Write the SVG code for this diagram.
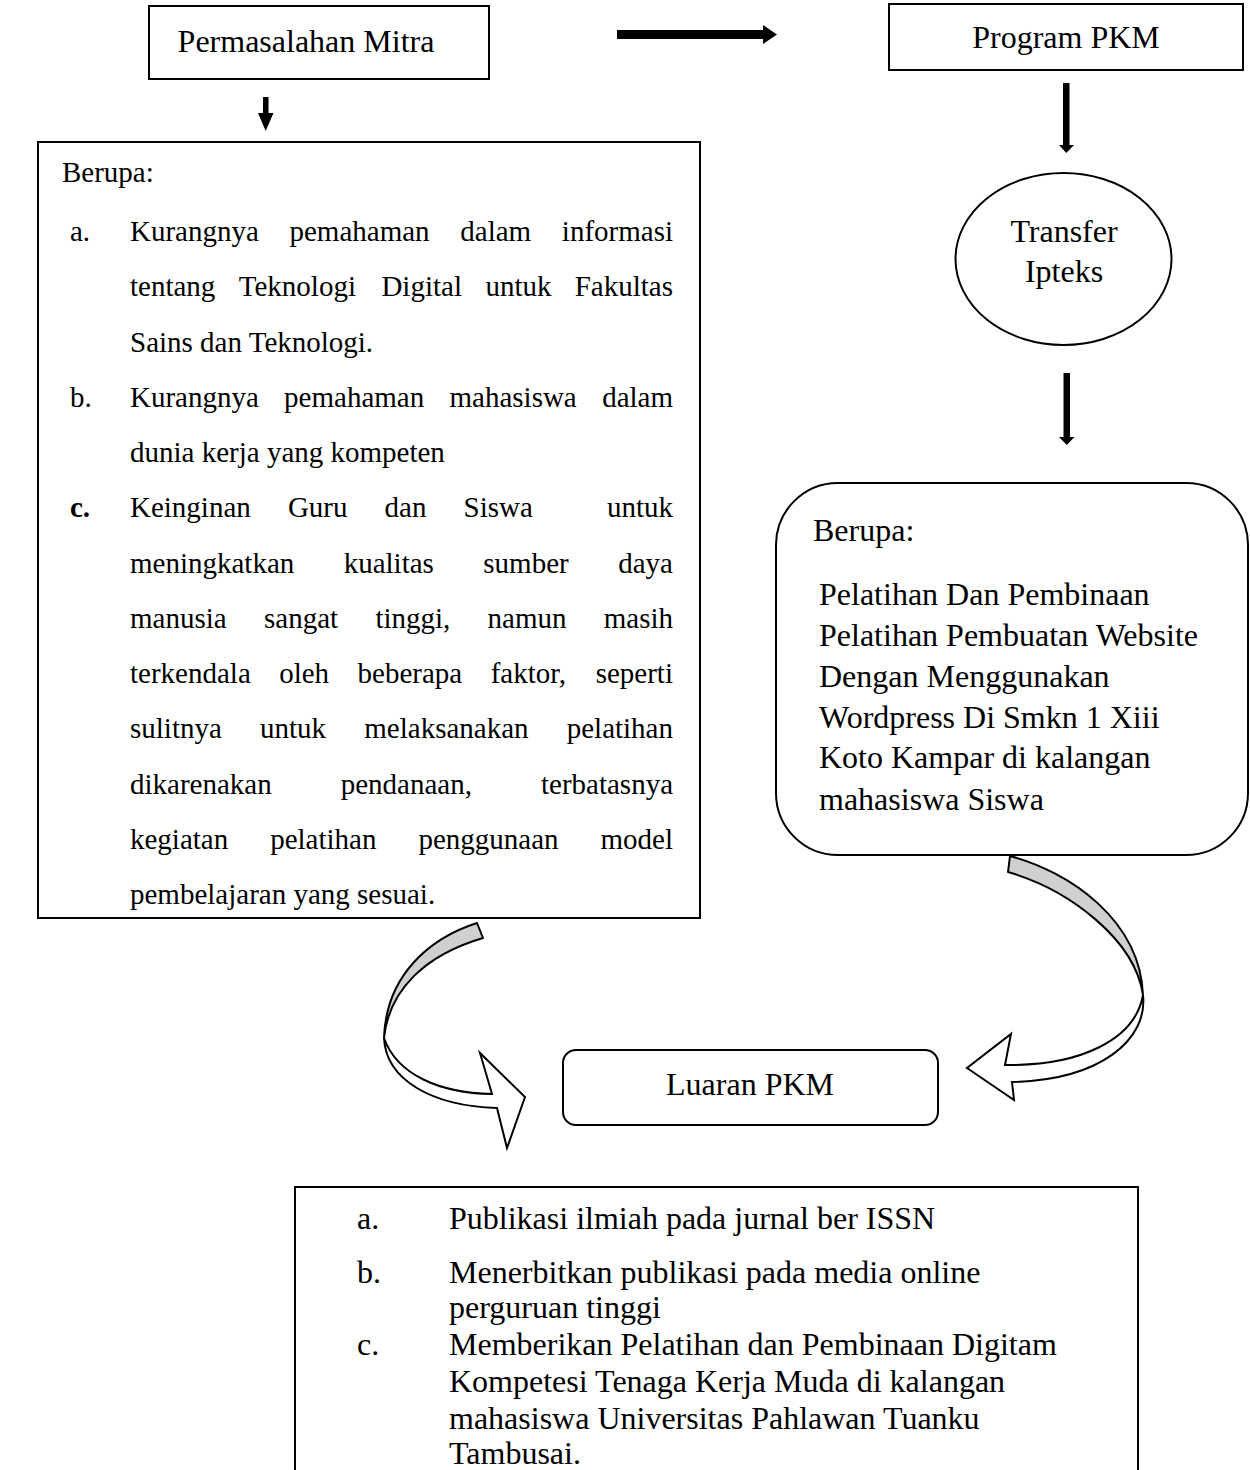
<svg xmlns="http://www.w3.org/2000/svg" width="1250" height="1470" viewBox="0 0 1250 1470">
<style>
.box{fill:#fff;stroke:#000;stroke-width:2}
.t{font-family:"Liberation Serif","Times New Roman",serif;fill:#000}
.f32{font-size:32px}
.f29{font-size:29px}
.mid{text-anchor:middle}
.end{text-anchor:end}
.arr{fill:#000;stroke:none}
.ribbon-back{fill:#d0d0d0;stroke:#000;stroke-width:2;stroke-linejoin:round}
.ribbon-front{fill:#fff;stroke:#000;stroke-width:2;stroke-linejoin:miter}
</style>
<rect width="1250" height="1470" fill="#fff"/>

<g id="connectors">
  <path class="arr" d="M617,30 H763 V25 L777,34.5 L763,44 V39 H617 Z"/>
  <path class="arr" d="M263,97 H268.5 V113 H273.5 L265.7,131 L258,113 H263 Z"/>
  <path class="arr" d="M1063,83 H1069.5 V145 H1074 L1066.3,153 L1059,145 H1063 Z"/>
  <path class="arr" d="M1063.5,373 H1070 V437 H1074.5 L1066.8,445 L1059,437 H1063.5 Z"/>
  <!-- left curved arrow -->
  <path class="ribbon-back" d="M477,923 C430,938 386,975 384,1038 C389,990 425,955 483,938 Z"/>
  <path class="ribbon-front" d="M384,1038 C386,1080 432,1106 497,1108 L507,1148 L525,1097 L480,1053 L492,1094 C440,1093 397,1075 384,1038 Z"/>
  <!-- right curved arrow -->
  <path class="ribbon-back" d="M1010,856 C1070,872 1140,920 1143,995 C1135,940 1070,890 1008,872 Z"/>
  <path class="ribbon-front" d="M1143,995 C1148,1040 1100,1080 1012,1082 L1014,1100 L967,1068 L1011,1034 L1005,1065 C1080,1066 1135,1040 1143,995 Z"/>
</g>

<g id="node-permasalahan">
  <rect class="box" x="149" y="6" width="340" height="73"/>
  <text class="t f32 mid" x="306" y="52">Permasalahan Mitra</text>
</g>

<g id="node-program">
  <rect class="box" x="889" y="4" width="354" height="66"/>
  <text class="t f32 mid" x="1066" y="48">Program PKM</text>
</g>

<g id="node-transfer">
  <ellipse class="box" cx="1063.5" cy="259" rx="108" ry="86"/>
  <text class="t f32 mid" x="1064" y="242">Transfer</text>
  <text class="t f32 mid" x="1064" y="282">Ipteks</text>
</g>

<g id="node-berupa-left">
  <rect class="box" x="38" y="142" width="662" height="776"/>
  <g class="t f29">
    <text x="62" y="182">Berupa:</text>
    <text x="70" y="241">a.</text>
    <text y="241"><tspan x="130">Kurangnya</tspan><tspan x="289.5">pemahaman</tspan><tspan x="460.3">dalam</tspan></text>
    <text class="end" x="673" y="241">informasi</text>
    <text y="296.25"><tspan x="130">tentang</tspan><tspan x="238.8">Teknologi</tspan><tspan x="381.4">Digital</tspan><tspan x="485.4">untuk</tspan></text>
    <text class="end" x="673" y="296.25">Fakultas</text>
    <text x="130" y="351.5">Sains dan Teknologi.</text>
    <text x="70" y="406.75">b.</text>
    <text y="406.75"><tspan x="130">Kurangnya</tspan><tspan x="284.1">pemahaman</tspan><tspan x="449.5">mahasiswa</tspan></text>
    <text class="end" x="673" y="406.75">dalam</text>
    <text x="130" y="462">dunia kerja yang kompeten</text>
    <text x="70" y="517.25" font-weight="bold">c.</text>
    <text y="517.25"><tspan x="130">Keinginan</tspan><tspan x="287.9">Guru</tspan><tspan x="384.6">dan</tspan><tspan x="463.6">Siswa</tspan></text>
    <text class="end" x="673" y="517.25">untuk</text>
    <text y="572.5"><tspan x="130">meningkatkan</tspan><tspan x="343.7">kualitas</tspan><tspan x="483.3">sumber</tspan></text>
    <text class="end" x="673" y="572.5">daya</text>
    <text y="627.75"><tspan x="130">manusia</tspan><tspan x="264">sangat</tspan><tspan x="375.4">tinggi,</tspan><tspan x="487.6">namun</tspan></text>
    <text class="end" x="673" y="627.75">masih</text>
    <text y="683"><tspan x="130">terkendala</tspan><tspan x="279.2">oleh</tspan><tspan x="357.6">beberapa</tspan><tspan x="490.7">faktor,</tspan></text>
    <text class="end" x="673" y="683">seperti</text>
    <text y="738.25"><tspan x="130">sulitnya</tspan><tspan x="260">untuk</tspan><tspan x="364.3">melaksanakan</tspan></text>
    <text class="end" x="673" y="738.25">pelatihan</text>
    <text y="793.5"><tspan x="130">dikarenakan</tspan><tspan x="340.7">pendanaan,</tspan></text>
    <text class="end" x="673" y="793.5">terbatasnya</text>
    <text y="848.75"><tspan x="130">kegiatan</tspan><tspan x="270.2">pelatihan</tspan><tspan x="418.4">penggunaan</tspan></text>
    <text class="end" x="673" y="848.75">model</text>
    <text x="130" y="904">pembelajaran yang sesuai.</text>
  </g>
</g>

<g id="node-berupa-right">
  <rect class="box" x="776" y="483" width="472" height="372" rx="62" ry="62"/>
  <g class="t f32">
    <text x="813" y="541">Berupa:</text>
    <text x="819" y="605">Pelatihan Dan Pembinaan</text>
    <text x="819" y="646">Pelatihan Pembuatan Website</text>
    <text x="819" y="687">Dengan Menggunakan</text>
    <text x="819" y="728">Wordpress Di Smkn 1 Xiii</text>
    <text x="819" y="768">Koto Kampar di kalangan</text>
    <text x="819" y="810">mahasiswa Siswa</text>
  </g>
</g>

<g id="node-luaran">
  <rect class="box" x="563" y="1050" width="375" height="75" rx="13" ry="13"/>
  <text class="t f32 mid" x="750" y="1095">Luaran PKM</text>
</g>

<g id="node-output">
  <rect class="box" x="295" y="1187" width="843" height="300"/>
  <g class="t f32">
    <text x="357" y="1229">a.</text>
    <text x="449" y="1229">Publikasi ilmiah pada jurnal ber ISSN</text>
    <text x="357" y="1283">b.</text>
    <text x="449" y="1283">Menerbitkan publikasi pada media online</text>
    <text x="449" y="1318">perguruan tinggi</text>
    <text x="357" y="1355">c.</text>
    <text x="449" y="1355">Memberikan Pelatihan dan Pembinaan Digitam</text>
    <text x="449" y="1392">Kompetesi Tenaga Kerja Muda di kalangan</text>
    <text x="449" y="1429">mahasiswa Universitas Pahlawan Tuanku</text>
    <text x="449" y="1464">Tambusai.</text>
  </g>
</g>
</svg>
